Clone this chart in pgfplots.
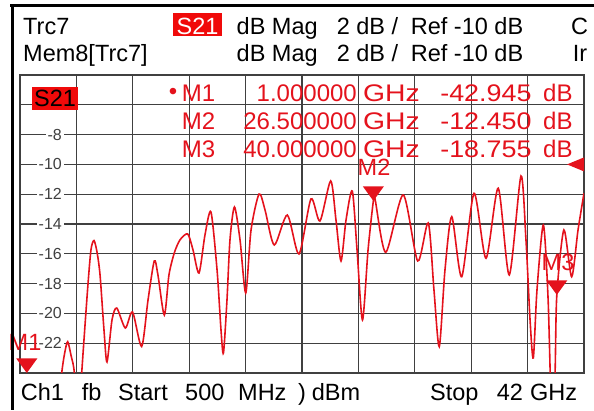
\documentclass[border=0pt]{standalone}
\usepackage{fontspec}
\setmainfont{Liberation Sans}
\usepackage{graphicx}
\usepackage{pgfplots}
\pgfplotsset{compat=1.18}
\definecolor{trc}{RGB}{228,18,28}
\definecolor{gridc}{RGB}{64,64,64}
\definecolor{lbl}{RGB}{64,64,64}
\definecolor{boxred}{RGB}{240,10,10}
\pgfdeclareplotmark{dtri}{\pgfpathmoveto{\pgfqpoint{0pt}{0pt}}\pgfpathlineto{\pgfqpoint{-10.5pt}{14.5pt}}\pgfpathlineto{\pgfqpoint{10.5pt}{14.5pt}}\pgfpathclose\pgfusepathqfill}
\pgfdeclareplotmark{ltri}{\pgfpathmoveto{\pgfqpoint{-17pt}{0pt}}\pgfpathlineto{\pgfqpoint{0pt}{7pt}}\pgfpathlineto{\pgfqpoint{0pt}{-7pt}}\pgfpathclose\pgfusepathqfill}
\newcommand{\bigf}{\fontsize{23.5}{26}\selectfont}
\newcommand{\tabf}{\fontsize{24}{26}\selectfont}
\newcommand{\smlf}{\fontsize{16}{18}\selectfont}
\newcommand{\wide}[2]{\scalebox{#1}[1]{#2}}
\begin{document}
\begin{tikzpicture}
\path[use as bounding box] (0pt,0pt) rectangle (594pt,410pt);
\begin{axis}[at={(20pt,37pt)}, anchor=south west, width=564pt, height=298pt, scale only axis,
  xmin=0.5, xmax=42, ymin=-24, ymax=-4,
  xtick={0.5,4.65,8.8,12.95,17.1,21.25,25.4,29.55,33.7,37.85,42},
  ytick={-24,-22,...,-4}, xticklabels={}, yticklabels={},
  major tick length=0pt, grid=major,
  major grid style={gridc, line width=1.3pt},
  axis line style={gridc, line width=1.5pt},
  clip mode=individual]
\addplot[trc, line width=1.6pt, smooth, tension=0.45] coordinates {
(0.5,-33) (1.0,-42.945) (1.8,-37) (2.6,-31) (3.2,-27.5) (3.57,-24) (3.8,-22.6) (4.01,-21.9) (4.25,-22.8) (4.5,-24) (4.77,-28) (5.04,-24)
(5.47,-18.43) (5.72,-15.75) (5.945,-15.11) (6.17,-15.9) (6.39,-17.42) (6.68,-21.11) (6.90,-23.26)
(7.27,-20.44) (7.62,-19.64) (8.25,-20.98) (8.78,-19.91) (9.45,-22.22)
(9.92,-19.10) (10.38,-16.48) (10.65,-17.42) (11.12,-20.11) (11.46,-17.42) (11.85,-15.95) (12.27,-15.07) (12.84,-14.67)
(13.23,-15.74) (13.67,-17.29) (14.11,-14.74) (14.55,-13.19)
(15.0,-17.09) (15.29,-21.11) (15.47,-22.66) (15.73,-19.10) (15.95,-15.07) (16.28,-12.86)
(16.69,-15.07) (17.11,-18.63) (17.50,-14.40) (18.09,-11.99)
(18.53,-13.06) (19.21,-15.41) (20.17,-13.40) (21.03,-16.01) (21.91,-12.32) (22.57,-13.80) (23.36,-11.11)
(23.75,-13.73) (24.12,-16.48) (24.49,-13.73) (24.95,-11.79)
(25.30,-15.74) (25.70,-20.44) (26.11,-15.74) (26.5,-12.45) (26.62,-12.3)
(27.41,-15.90) (28.70,-12.05) (29.76,-16.48) (30.54,-13.93)
(30.96,-18.43) (31.35,-22.23) (31.77,-17.09) (32.27,-13.51)
(33.0,-17.54) (33.91,-11.94) (34.79,-16.30) (35.69,-11.60) (36.50,-17.42) (37.36,-10.78)
(37.73,-15.07) (38.03,-20.44) (38.27,-22.99) (38.54,-18.43) (39.01,-14.07)
(39.36,-19.10) (39.65,-28) (39.87,-24) (40.0,-18.755) (40.52,-14.40)
(41.09,-17.54) (41.56,-14.40) (42,-11.94)
};
\addplot[only marks, mark=dtri, trc] coordinates {(1,-24) (26.5,-12.45) (40,-18.755)};
\addplot[only marks, mark=ltri, trc] coordinates {(42,-10)};
\end{axis}
\begin{scope}[x=1pt,y=1pt]
% y tick labels (inside first column)
\foreach \v in {-8,-10,-12,-14,-16,-18,-20,-22}{
  \pgfmathsetmacro{\yy}{37+(\v+24)/20*298}
  \node[anchor=east, fill=white, inner xsep=2pt, inner ysep=0pt, text=lbl, font=\smlf] at (64,\yy) {\v};
}
% marker labels
\node[anchor=base, text=trc, font=\bigf] at (25,60) {M1};
\node[anchor=base, text=trc, font=\bigf] at (374,234) {M2};
\node[anchor=base, text=trc, font=\bigf] at (558,140) {M3};
% marker table
\begin{scope}[every node/.style={text=trc, font=\tabf, inner sep=0pt}]
\node[anchor=center] at (173,316) {\textbullet};
\node[anchor=base west] at (181.7,308) {M1};
\node[anchor=base west] at (181.7,280) {M2};
\node[anchor=base west] at (181.7,252) {M3};
\node[anchor=base east] at (357,308) {1.000000};
\node[anchor=base east] at (357,280) {26.500000};
\node[anchor=base east] at (357,252) {40.000000};
\node[anchor=base west] at (363,308) {\wide{1.18}{GHz}};
\node[anchor=base west] at (363,280) {\wide{1.18}{GHz}};
\node[anchor=base west] at (363,252) {\wide{1.18}{GHz}};
\node[anchor=base east] at (531.7,308) {\wide{1.12}{-42.945}};
\node[anchor=base east] at (531.7,280) {\wide{1.12}{-12.450}};
\node[anchor=base east] at (531.7,252) {\wide{1.12}{-18.755}};
\node[anchor=base west] at (543,308) {dB};
\node[anchor=base west] at (543,280) {dB};
\node[anchor=base west] at (543,252) {dB};
\end{scope}
% S21 box in diagram
\fill[boxred] (32,300) rectangle (78,323);
\node[font=\bigf, inner sep=0pt] at (55,311.5) {S21};
% header
\begin{scope}[every node/.style={font=\bigf, inner sep=0pt, anchor=base west}]
\node at (23,375) {Trc7};
\fill[boxred] (173,374) rectangle (222,396.7);
\node[text=white, anchor=base] at (197.5,375) {S21};
\node at (236.5,375) {dB Mag};
\node at (336.6,375) {2 dB /};
\node at (410.7,375) {Ref -10 dB};
\node at (571,375) {C};
\node at (23,348.3) {Mem8[Trc7]};
\node at (236.5,348.3) {dB Mag};
\node at (336.6,348.3) {2 dB /};
\node at (410.7,348.3) {Ref -10 dB};
\node at (572.7,348.3) {Ir};
% footer
\node at (20.7,10) {Ch1};
\node at (81.7,10) {fb};
\node at (118,10) {Start};
\node at (185,10) {500};
\node at (238,10) {MHz};
\node at (298,10) {)};
\node at (311.7,10) {dBm};
\node at (430,10) {Stop};
\node at (496.7,10) {42};
\node at (530,10) {GHz};
\end{scope}
% outer frame
\draw[black, line width=3pt] (10,404) -- (594,404);
\draw[black, line width=3pt] (12.5,405.5) -- (12.5,0);
\end{scope}
\end{tikzpicture}
\end{document}
